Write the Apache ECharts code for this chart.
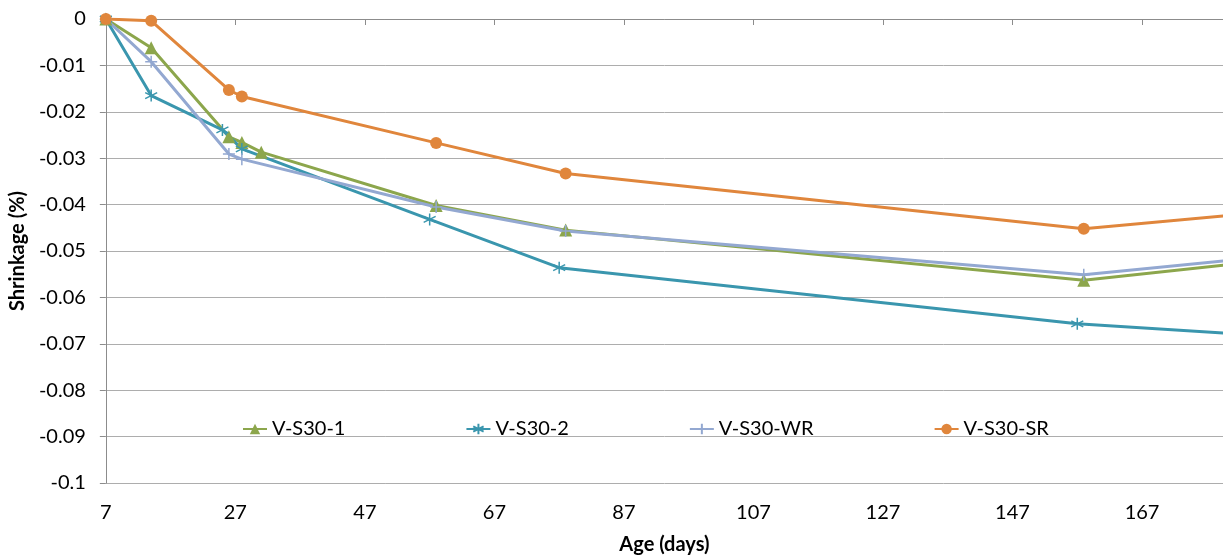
<!DOCTYPE html>
<html>
<head>
<meta charset="utf-8">
<script src="https://cdn.jsdelivr.net/npm/echarts@6/dist/echarts.min.js"></script>
<style>
  html, body { margin: 0; padding: 0; background: #fff; }
  #chart { width: 1223px; height: 560px; }
</style>
</head>
<body>
<div id="chart"></div>
<script>
// Shrinkage (%) against age (days) for four mixes
const seriesNames = ['V-S30-1', 'V-S30-2', 'V-S30-WR', 'V-S30-SR'];

const daysS301 = [7, 14, 26, 28, 31, 58, 78, 158, 180];
const shrinkS301 = [0, -0.0062, -0.0254, -0.0266, -0.0287, -0.0402, -0.0455, -0.0563, -0.0530];

const daysS302 = [7, 14, 25, 28, 57, 77, 157, 180];
const shrinkS302 = [0, -0.0165, -0.0239, -0.0280, -0.0432, -0.0536, -0.0657, -0.0677];

const daysWR = [7, 14, 26, 28, 58, 78, 158, 180];
const shrinkWR = [0, -0.0092, -0.0291, -0.0302, -0.0405, -0.0457, -0.0551, -0.0521];

const daysSR = [7, 14, 26, 28, 58, 78, 158, 180];
const shrinkSR = [0, -0.0004, -0.0153, -0.0167, -0.0267, -0.0333, -0.0452, -0.0424];

const xMin = 7, xMax = 179.5, xStep = 20;
const yMin = -0.1, yMax = 0, yStep = 0.01;

const colors = ['#8CA64C', '#3A96AE', '#93A8D1', '#E0863C'];
const FONT = 'Lato, "Open Sans", sans-serif';

const pair = (xs, ys) => xs.map((x, i) => [x, ys[i]]);

const starPath = 'path://M5,0L5,10M0.67,2.5L9.33,7.5M0.67,7.5L9.33,2.5';
const plusPath = 'path://M5,0L5,10M0,5L10,5';

function lineSeries(name, data, color, symbol, size, extra) {
  return Object.assign({
    name: name,
    type: 'line',
    data: data,
    xAxisIndex: 0,
    yAxisIndex: 0,
    symbol: symbol,
    symbolSize: size,
    showSymbol: true,
    clip: true,
    lineStyle: { color: color, width: 3 },
    itemStyle: { color: color, borderColor: color, borderWidth: 0 },
    emphasis: { disabled: true },
    animation: false
  }, extra || {});
}

const chart = echarts.init(document.getElementById('chart'), null, { renderer: 'canvas' });

chart.setOption({
  backgroundColor: '#ffffff',
  textStyle: { fontFamily: FONT },
  grid: { left: 102, top: 19, right: 0, bottom: 76, containLabel: false },
  legend: {
    left: 237,
    top: 414,
    itemGap: 120,
    itemWidth: 24,
    itemHeight: 13,
    data: seriesNames,
    textStyle: { fontFamily: FONT, fontSize: 20, color: '#000' }
  },
  xAxis: [
    {
      type: 'value',
      min: xMin,
      max: xMax,
      interval: xStep,
      position: 'bottom',
      name: 'Age (days)',
      nameLocation: 'middle',
      nameGap: 52,
      nameTextStyle: { fontFamily: FONT, fontSize: 20, fontWeight: 'bold', color: '#000' },
      axisLine: { show: false },
      axisTick: { show: false },
      splitLine: { show: false },
      axisLabel: { fontFamily: FONT, fontSize: 20, color: '#000', margin: 20, showMaxLabel: false }
    },
    {
      type: 'value',
      min: xMin,
      max: xMax,
      interval: xStep,
      position: 'top',
      axisLine: { show: true, onZero: false, lineStyle: { color: '#8C8C8C', width: 1 } },
      axisTick: { show: true, inside: true, length: 6, lineStyle: { color: '#8C8C8C' } },
      axisLabel: { show: false },
      splitLine: { show: false }
    }
  ],
  yAxis: {
    type: 'value',
    min: yMin,
    max: yMax,
    interval: yStep,
    name: 'Shrinkage (%)',
    nameLocation: 'middle',
    nameGap: 66,
    nameRotate: 90,
    nameTextStyle: { fontFamily: FONT, fontSize: 20, fontWeight: 'bold', color: '#000' },
    axisLine: { show: true, onZero: false, lineStyle: { color: '#8C8C8C', width: 1 } },
    axisTick: { show: true, inside: false, length: 6, lineStyle: { color: '#8C8C8C' } },
    splitLine: { show: true, lineStyle: { color: '#ADADAD', width: 1 } },
    axisLabel: {
      fontFamily: FONT, fontSize: 20, color: '#000', margin: 20,
      formatter: v => String(Number(v.toFixed(2)))
    }
  },
  series: [
    lineSeries(seriesNames[0], pair(daysS301, shrinkS301), colors[0], 'triangle', 13),
    lineSeries(seriesNames[1], pair(daysS302, shrinkS302), colors[1], starPath, 12,
      { itemStyle: { color: colors[1], borderColor: colors[1], borderWidth: 1.5 } }),
    lineSeries(seriesNames[2], pair(daysWR, shrinkWR), colors[2], plusPath, 12,
      { itemStyle: { color: colors[2], borderColor: colors[2], borderWidth: 1.5 } }),
    lineSeries(seriesNames[3], pair(daysSR, shrinkSR), colors[3], 'circle', 12)
  ]
});
</script>
</body>
</html>
